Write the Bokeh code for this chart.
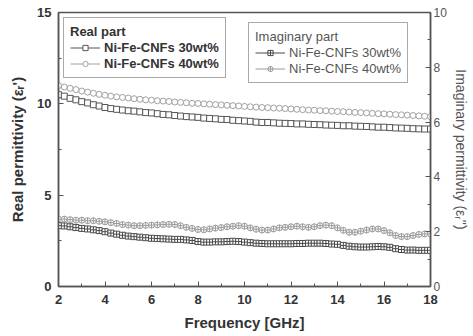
from bokeh.plotting import figure
from bokeh.models import (Range1d, LinearAxis, Legend, LegendItem, FixedTicker)
from bokeh.embed import file_html
from bokeh.resources import INLINE

freq = [2.0 + 0.25 * i for i in range(65)]

real_30 = [10.50, 10.42, 10.30, 10.22, 10.12, 10.05, 9.95, 9.88, 9.80, 9.74, 9.70, 9.66, 9.62,
           9.60, 9.56, 9.52, 9.50, 9.46, 9.42, 9.40, 9.36, 9.33, 9.30, 9.28, 9.26, 9.22,
           9.20, 9.18, 9.15, 9.14, 9.10, 9.08, 9.06, 9.04, 9.00, 8.98, 8.98, 8.96, 8.94,
           8.93, 8.92, 8.90, 8.90, 8.88, 8.87, 8.86, 8.84, 8.83, 8.82, 8.80, 8.80, 8.78,
           8.77, 8.76, 8.74, 8.72, 8.72, 8.70, 8.68, 8.67, 8.66, 8.64, 8.63, 8.62, 8.62]

real_40 = [11.00, 10.92, 10.85, 10.78, 10.70, 10.64, 10.58, 10.52, 10.47, 10.42, 10.38, 10.35, 10.32,
           10.28, 10.25, 10.22, 10.20, 10.17, 10.15, 10.13, 10.10, 10.08, 10.06, 10.03, 10.02, 10.00,
           9.98, 9.96, 9.94, 9.92, 9.90, 9.88, 9.86, 9.84, 9.82, 9.80, 9.79, 9.77, 9.76,
           9.74, 9.72, 9.70, 9.68, 9.66, 9.65, 9.63, 9.62, 9.60, 9.58, 9.57, 9.55, 9.53,
           9.52, 9.50, 9.48, 9.46, 9.45, 9.43, 9.41, 9.40, 9.38, 9.36, 9.34, 9.32, 9.30]

imag_30 = [2.22, 2.21, 2.18, 2.15, 2.12, 2.10, 2.07, 2.04, 2.00, 1.95, 1.91, 1.87, 1.84,
           1.82, 1.80, 1.78, 1.76, 1.75, 1.74, 1.73, 1.72, 1.72, 1.70, 1.68, 1.64, 1.62,
           1.62, 1.63, 1.63, 1.64, 1.65, 1.64, 1.62, 1.60, 1.58, 1.57, 1.56, 1.56, 1.56,
           1.56, 1.56, 1.57, 1.57, 1.58, 1.58, 1.58, 1.57, 1.55, 1.54, 1.50, 1.47, 1.45,
           1.44, 1.44, 1.45, 1.46, 1.45, 1.43, 1.38, 1.35, 1.33, 1.33, 1.32, 1.32, 1.32]

imag_40 = [2.46, 2.46, 2.44, 2.42, 2.42, 2.40, 2.40, 2.38, 2.36, 2.33, 2.30, 2.26, 2.24,
           2.22, 2.22, 2.23, 2.24, 2.25, 2.26, 2.27, 2.26, 2.22, 2.16, 2.12, 2.08, 2.07,
           2.10, 2.13, 2.15, 2.18, 2.20, 2.22, 2.20, 2.14, 2.09, 2.06, 2.06, 2.10, 2.14,
           2.16, 2.18, 2.20, 2.18, 2.16, 2.18, 2.22, 2.24, 2.22, 2.14, 2.05, 1.98, 1.98,
           2.02, 2.06, 2.10, 2.10, 2.04, 1.96, 1.86, 1.82, 1.82, 1.86, 1.90, 1.92, 1.92]

x_ticks = [2, 4, 6, 8, 10, 12, 14, 16, 18]
left_ticks = [0, 5, 10, 15]
right_ticks = [0, 2, 4, 6, 8, 10]

FONT = "Liberation Sans"
AX = "#555555"

p = figure(frame_width=372, frame_height=274, output_backend="svg", toolbar_location=None,
           x_range=Range1d(2, 18), y_range=Range1d(0, 15),
           min_border_left=58, min_border_right=38, min_border_top=12, min_border_bottom=46)
p.extra_y_ranges = {"imag": Range1d(0, 10)}
p.grid.visible = False
p.outline_line_color = AX
p.outline_line_width = 1.5
p.background_fill_color = "white"
p.border_fill_color = "white"

def style_axis(ax, bold=True, size="12px", color="#333333", lsize="15px"):
    ax.axis_line_color = AX
    ax.axis_line_width = 1.5
    ax.major_tick_line_color = AX
    ax.minor_tick_line_color = AX
    ax.major_tick_in = 5
    ax.major_tick_out = 0
    ax.minor_tick_in = 3
    ax.minor_tick_out = 0
    ax.major_label_text_font = FONT
    ax.major_label_text_font_size = size
    ax.major_label_text_font_style = "bold" if bold else "normal"
    ax.major_label_text_color = color
    ax.axis_label_text_font = FONT
    ax.axis_label_text_font_size = lsize
    ax.axis_label_text_font_style = "bold" if bold else "normal"
    ax.axis_label_text_color = color

xa = p.xaxis[0]
xa.ticker = FixedTicker(ticks=x_ticks, minor_ticks=list(range(3, 18, 2)))
xa.axis_label = "Frequency [GHz]"
style_axis(xa, size="13px")
xa.major_label_standoff = 8
xa.axis_label_standoff = 7

ya = p.yaxis[0]
ya.ticker = FixedTicker(ticks=left_ticks, minor_ticks=[2.5, 7.5, 12.5])
ya.axis_label = "Real permittivity (\u03b5\u1d63')"
style_axis(ya, size="13px")
ya.major_label_standoff = 7
ya.axis_label_standoff = 8

ra = LinearAxis(y_range_name="imag")
ra.ticker = FixedTicker(ticks=right_ticks, minor_ticks=[1, 3, 5, 7, 9])
ra.axis_label = "Imaginary permittivity (\u03b5\u1d63'')"
style_axis(ra, bold=False, size="12px", color="#555555", lsize="14px")
ra.major_label_standoff = 3
ra.axis_label_standoff = 3
p.add_layout(ra, "right")

C30 = "#555555"
C40 = "#a0a0a0"
CI30 = "#4a4a4a"
CI40 = "#9a9a9a"

l1 = p.line(freq, real_30, line_color=C30, line_width=1)
s1 = p.scatter(freq, real_30, marker="square", size=6, line_color=C30, fill_color="white", line_width=1)
l2 = p.line(freq, real_40, line_color=C40, line_width=1)
s2 = p.scatter(freq, real_40, marker="circle", size=6, line_color=C40, fill_color="white", line_width=1)
l3 = p.line(freq, imag_30, line_color=CI30, line_width=1, y_range_name="imag")
s3 = p.scatter(freq, imag_30, marker="square_cross", size=6, line_color=CI30, fill_color="white",
               line_width=1, y_range_name="imag")
l4 = p.line(freq, imag_40, line_color=CI40, line_width=1, y_range_name="imag")
s4 = p.scatter(freq, imag_40, marker="circle_cross", size=6, line_color=CI40, fill_color="white",
               line_width=1, y_range_name="imag")

def make_legend(title, items, bold, color, loc):
    lg = Legend(items=items, title=title, location=loc)
    lg.title_text_font = FONT
    lg.title_text_font_size = "13px"
    lg.title_text_font_style = "bold" if bold else "normal"
    lg.title_text_color = color
    lg.title_standoff = 1
    lg.label_text_font = FONT
    lg.label_text_font_size = "13px"
    lg.label_text_font_style = "bold" if bold else "normal"
    lg.label_text_color = color
    lg.glyph_width = 30
    lg.glyph_height = 13
    lg.label_height = 13
    lg.label_standoff = 4
    lg.spacing = 1
    lg.padding = 6
    lg.margin = 5
    lg.border_line_color = AX
    lg.border_line_width = 1.2
    lg.background_fill_alpha = 1
    return lg

leg1 = make_legend("Real part", [
    LegendItem(label="Ni-Fe-CNFs 30wt%", renderers=[l1, s1]),
    LegendItem(label="Ni-Fe-CNFs 40wt%", renderers=[l2, s2]),
], True, "#333333", "top_left")
leg2 = make_legend("Imaginary part", [
    LegendItem(label="Ni-Fe-CNFs 30wt%", renderers=[l3, s3]),
    LegendItem(label="Ni-Fe-CNFs 40wt%", renderers=[l4, s4]),
], False, "#555555", "top_right")
leg2.margin = 0
leg2.location = (190, 203)
p.add_layout(leg1, "center")
p.add_layout(leg2, "center")

open("out.html", "w").write(file_html(p, INLINE))
